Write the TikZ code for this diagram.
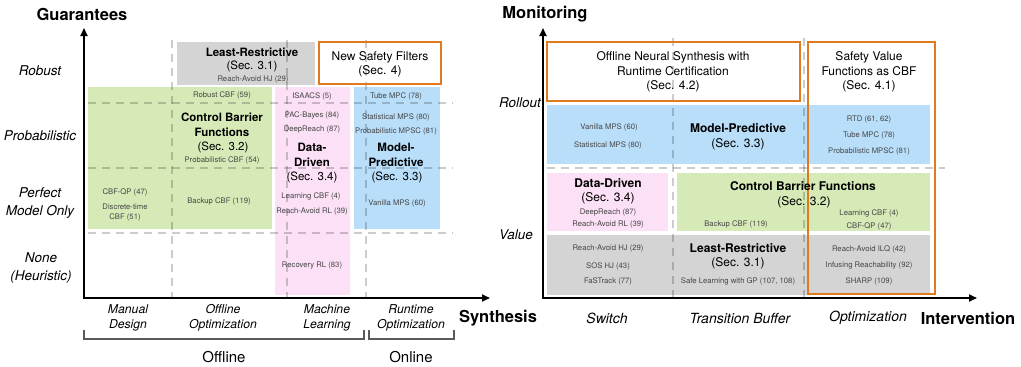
\documentclass[tikz,border=0pt]{standalone}
\usepackage{fontspec}
\setmainfont{TeX Gyre Heros}
\usetikzlibrary{arrows.meta}
\definecolor{cgreen}{RGB}{214,234,183}
\definecolor{cpink}{RGB}{252,224,245}
\definecolor{cblue}{RGB}{184,222,250}
\definecolor{cgray}{RGB}{212,212,212}
\definecolor{corange}{RGB}{224,122,30}
\definecolor{ctext}{RGB}{70,70,70}
\definecolor{cbrack}{RGB}{90,90,90}
\tikzset{
  small/.style={font=\fontsize{7.7}{10}\selectfont, text=ctext, inner sep=0pt, align=center},
  ttl/.style={font=\fontsize{11.5}{14.5}\selectfont\bfseries, inner sep=0pt, align=center},
  sec/.style={font=\fontsize{11.5}{14.5}\selectfont, inner sep=0pt, align=center},
  ttlr/.style={font=\fontsize{12}{14.5}\selectfont\bfseries, inner sep=0pt, align=center},
  secr/.style={font=\fontsize{12}{14.5}\selectfont, inner sep=0pt, align=center},
  rowlab/.style={font=\fontsize{13.5}{18}\selectfont\itshape, inner sep=0pt, align=center},
  collab/.style={font=\fontsize{12.2}{15}\selectfont\itshape, inner sep=0pt, align=center},
  collabr/.style={font=\fontsize{14}{16}\selectfont\itshape, inner sep=0pt, align=center},
  axtitle/.style={font=\fontsize{16.5}{18}\selectfont\bfseries, inner sep=0pt},
  grplab/.style={font=\fontsize{15}{18}\selectfont, inner sep=0pt},
  axisline/.style={line width=1.8pt, {Triangle[length=8pt,width=7pt]}-{Triangle[length=8pt,width=7pt]}},
  gridline/.style={draw=black, draw opacity=0.2, line width=1.1pt, dash pattern=on 8pt off 6pt},
  obox/.style={draw=corange, line width=1.5pt},
  brack/.style={draw=cbrack, line width=1.1pt},
}
\begin{document}
\begin{tikzpicture}[x=1pt,y=-1pt]
\useasboundingbox (0,0) rectangle (1021,367);

% ================= LEFT PANEL =================
% boxes
\fill[cgray] (177,42) rectangle (315,85);
\fill[white] (319,42) rectangle (441,84);
\fill[cgreen] (88,87) rectangle (272,229);
\fill[cpink] (275,87) rectangle (350,295);
\fill[cblue] (354,87) rectangle (440,229);

% grid
\foreach \xx in {172,287,366} \draw[gridline] (\xx,40) -- (\xx,298);
\foreach \yy in {103,168,233} \draw[gridline] (88,\yy) -- (453,\yy);

\draw[obox] (319,42) rectangle (441,84);

% axes
\coordinate (yL) at (84,28);
\coordinate (xL) at (490,298);
\draw[axisline] (yL) |- (xL);

% axis titles
\node[axtitle] (guar) at (82,14) {Guarantees};
\node[axtitle] (synth) at (498,318) {Synthesis};

% row labels
\node[rowlab] (rRob) at (40,71) {Robust};
\node[rowlab] (rProb) at (40,136) {Probabilistic};
\node[rowlab] (rPerf) at (40,203) {Perfect\\Model Only};
\node[rowlab] (rNone) at (41,268) {None\\(Heuristic)};

% column labels
\node[collab] (cMan) at (128,318) {Manual\\Design};
\node[collab] (cOff) at (223,318) {Offline\\Optimization};
\node[collab] (cML) at (327,318) {Machine\\Learning};
\node[collab] (cRT) at (411,318) {Runtime\\Optimization};

% brackets
\coordinate (b1a) at (84,330);
\coordinate (b1b) at (364,330);
\coordinate (b2a) at (369,330);
\coordinate (b2b) at (454,330);
\draw[brack] (b1a) -- ++(0,9) -| (b1b);
\draw[brack] (b2a) -- ++(0,9) -| (b2b);
\node[grplab] (gOff) at (224,357) {Offline};
\node[grplab] (gOn) at (411,357) {Online};

% gray LR box text
\node[ttl] (lrT) at (252,52) {Least-Restrictive};
\node[sec] (lrS) at (252,66) {(Sec. 3.1)};
\node[small] (lrA) at (253,80) {Reach-Avoid HJ (29)};

% new safety filters
\node[secr] (nsfT) at (380,57) {New Safety Filters};
\node[secr] (nsfS) at (380,71) {(Sec. 4)};

% green CBF
\node[small] (gA) at (222,95) {Robust CBF (59)};
\node[ttl] (gT) at (222,125) {Control Barrier\\Functions};
\node[sec] (gS) at (223,147) {(Sec. 3.2)};
\node[small] (gB) at (222,160) {Probabilistic CBF (54)};
\node[small] (gC) at (125,192) {CBF-QP (47)};
\node[small, align=center] (gD) at (125,213) {Discrete-time\\CBF (51)};
\node[small] (gE) at (219,201) {Backup CBF (119)};

% pink DD
\node[small] (pA) at (312,96) {ISAACS (5)};
\node[small] (pB) at (312,115) {PAC-Bayes (84)};
\node[small] (pC) at (312,130) {DeepReach (87)};
\node[ttl] (pT) at (312,155) {Data-\\Driven};
\node[sec] (pS) at (312,177) {(Sec. 3.4)};
\node[small] (pD) at (311,196) {Learning CBF (4)};
\node[small] (pE) at (312,212) {Reach-Avoid RL (39)};
\node[small] (pF) at (312,266) {Recovery RL (83)};

% blue MP
\node[small] (bA) at (396,96) {Tube MPC (78)};
\node[small] (bB) at (396,117) {Statistical MPS (80)};
\node[small] (bC) at (396,131) {Probabilistic MPSC (81)};
\node[ttl] (bT) at (396,155) {Model-\\Predictive};
\node[sec] (bS) at (397,177) {(Sec. 3.3)};
\node[small] (bD) at (397,203) {Vanilla MPS (60)};

% ================= RIGHT PANEL =================
\fill[white] (547,42) rectangle (800,101);
\fill[cblue] (547,105) rectangle (930,164);
\fill[cpink] (547,173) rectangle (668,231);
\fill[cgreen] (677,173) rectangle (930,231);
\fill[cgray] (547,235) rectangle (930,295);

\foreach \xx in {673,804} \draw[gridline] (\xx,38) -- (\xx,298);
\draw[gridline] (547,168) -- (945,168);

\draw[obox] (547,42) rectangle (800,101);
\draw[obox] (808,42) rectangle (935,294);

\coordinate (yR) at (543,28);
\coordinate (xR) at (977,298);
\draw[axisline] (yR) |- (xR);

\node[axtitle] (monit) at (545,14) {Monitoring};
\node[axtitle] (interv) at (968,318) {Intervention};

\node[rowlab] (rRoll) at (520,103) {Rollout};
\node[rowlab] (rVal) at (516,235) {Value};

\node[collabr] (cSw) at (607,318) {Switch};
\node[collabr] (cTB) at (740,318) {Transition Buffer};
\node[collabr] (cOpt) at (868,318) {Optimization};

% orange boxes text
\node[secr] (onsT) at (673,72) {Offline Neural Synthesis with\\Runtime Certification\\(Sec. 4.2)};
\node[secr] (svfT) at (869,72) {Safety Value\\Functions as CBF\\(Sec. 4.1)};

% blue row
\node[small] (rbA) at (609,127) {Vanilla MPS (60)};
\node[small] (rbB) at (608,145) {Statistical MPS (80)};
\node[ttlr] (rbT) at (738,128) {Model-Predictive};
\node[secr] (rbS) at (738,144) {(Sec. 3.3)};
\node[small] (rbC) at (869,120) {RTD (61, 62)};
\node[small] (rbD) at (869,135) {Tube MPC (78)};
\node[small] (rbE) at (869,151) {Probabilistic MPSC (81)};

% pink
\node[ttlr] (rpT) at (608,183) {Data-Driven};
\node[secr] (rpS) at (608,198) {(Sec. 3.4)};
\node[small] (rpA) at (608,213) {DeepReach (87)};
\node[small] (rpB) at (608,225) {Reach-Avoid RL (39)};

% green
\node[ttlr] (rgT) at (803,186) {Control Barrier Functions};
\node[secr] (rgS) at (804,202) {(Sec. 3.2)};
\node[small] (rgA) at (736,224) {Backup CBF (119)};
\node[small] (rgB) at (869,213) {Learning CBF (4)};
\node[small] (rgC) at (869,226) {CBF-QP (47)};

% gray
\node[small] (ryA) at (608,249) {Reach-Avoid HJ (29)};
\node[small] (ryB) at (608,266) {SOS HJ (43)};
\node[small] (ryC) at (608,281) {FaSTrack (77)};
\node[ttlr] (ryT) at (738,248) {Least-Restrictive};
\node[secr] (ryS) at (738,263) {(Sec. 3.1)};
\node[small] (ryD) at (738,281) {Safe Learning with GP (107, 108)};
\node[small] (ryE) at (869,249) {Reach-Avoid ILQ (42)};
\node[small] (ryF) at (869,266) {Infusing Reachability (92)};
\node[small] (ryG) at (869,281) {SHARP (109)};
\end{tikzpicture}
\end{document}
